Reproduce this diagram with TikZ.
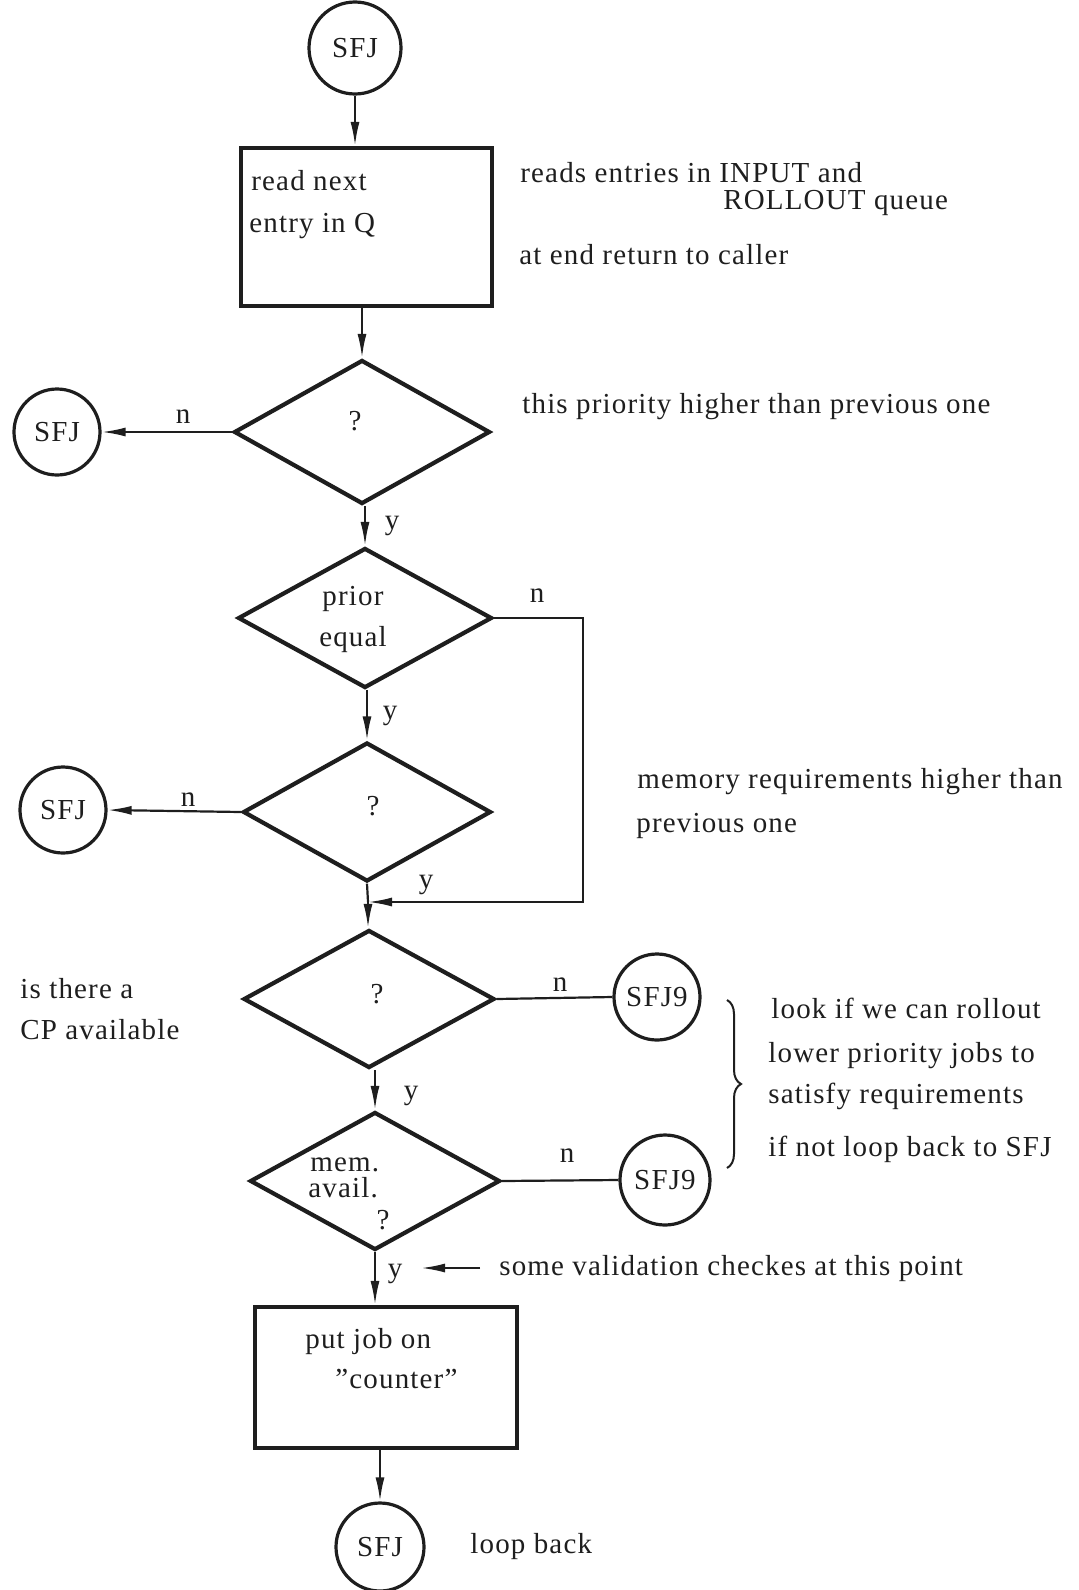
\documentclass[tikz,border=0pt]{standalone}
\usepackage{fontspec}
\setmainfont[LetterSpace=4]{Liberation Serif}
\usetikzlibrary{shapes.geometric,arrows.meta,decorations.pathreplacing}
\definecolor{ink}{RGB}{30,30,30}

\begin{document}
\begin{tikzpicture}[x=0.5pt,y=-0.5pt,
  every node/.style={text=ink},
  txt/.style={font=\fontsize{14.5}{17}\selectfont, inner sep=0pt, text height=12.5pt, text depth=3pt},
  lbl/.style={txt, anchor=west},
  ctr/.style={txt, anchor=center},
  term/.style={draw=ink, circle, line width=1.6pt, inner sep=0pt, font=\fontsize{14.5}{17}\selectfont},
  proc/.style={draw=ink, rectangle, line width=2.1pt, inner sep=0pt},
  test/.style={draw=ink, diamond, line width=2.1pt, inner sep=0pt},
  flow/.style={draw=ink, line width=1.1pt},
  tip/.style={-{Latex[length=12pt,width=4.5pt]}}
]
\useasboundingbox (0,0) rectangle (1079,1590);

% ---- main column ----
\node[term, minimum size=46pt] (top) at (355,48) {SFJ};
\node[proc, minimum width=125.5pt, minimum height=79pt] (read) at (366.5,227) {};
\node[test, minimum width=128pt, minimum height=72pt] (q1) at (362,432) {};
\node[term, minimum size=43pt] (s1) at (57,432) {SFJ};
\node[test, minimum width=127pt, minimum height=70pt] (q2) at (365,618) {};
\node[test, minimum width=124pt, minimum height=69.5pt] (q3) at (367,812) {};
\node[term, minimum size=43pt] (s2) at (63,810) {SFJ};
\coordinate (join) at (368,902);
\coordinate (bend) at (583,902);
\node[test, minimum width=125.5pt, minimum height=69pt] (q4) at (369,999) {};
\node[term, minimum size=43pt] (r1) at (657,997) {SFJ9};
\node[test, minimum width=125pt, minimum height=69pt] (q5) at (375,1181) {};
\node[term, minimum size=45pt] (r2) at (665,1180) {SFJ9};
\node[proc, minimum width=131pt, minimum height=70.5pt] (put) at (386,1377.5) {};
\node[term, minimum size=44pt] (end) at (380,1547) {SFJ};

% ---- texts inside the shapes ----
\node[lbl] at (251,181) {read next};
\node[lbl] at (249,223) {entry in Q};
\node[ctr] at (355,421) {?};
\node[ctr] at (353,596) {prior};
\node[ctr] at (353,637) {equal};
\node[ctr] at (373,806) {?};
\node[ctr] at (377,994) {?};
\node[lbl] at (310,1162) {mem.};
\node[lbl] at (308,1188) {avail.};
\node[ctr] at (383,1220) {?};
\node[lbl] at (305,1339) {put job on};
\node[lbl] at (335,1379) {”counter”};

% ---- connectors ----
\draw[flow,tip] (top) -- (top |- read.north);
\draw[flow,tip] (q1.north |- read.south) -- (q1.north);
\draw[flow,tip] (q1.west) -- (s1.east);
\draw[flow,tip] (q2.north |- q1.south) -- (q2.north);
\draw[flow,tip] (q2.east) -| (bend) -- (join);
\draw[flow,tip] (q3.north |- q2.south) -- (q3.north);
\draw[flow,tip] (q3.west) -- (s2.east);
\draw[flow] (q3.south) -- (join);
\draw[flow,tip] (join) -- (join |- q4.north);
\draw[flow] (q4.east) -- (r1.west);
\draw[flow,tip] (q5.north |- q4.south) -- (q5.north);
\draw[flow] (q5.east) -- (r2.west);
\draw[flow,tip] (q5.south) -- (q5.south |- put.north);
\draw[flow,tip] (end.north |- put.south) -- (end.north);

% ---- branch labels ----
\node[ctr] at (183,414) {n};
\node[ctr] at (392,520) {y};
\node[ctr] at (537,593) {n};
\node[ctr] at (390,710) {y};
\node[ctr] at (188,797) {n};
\node[ctr] at (426,879) {y};
\node[ctr] at (560,982) {n};
\node[ctr] at (411,1090) {y};
\node[ctr] at (567,1153) {n};
\node[ctr] at (395,1268) {y};

% ---- comments beside the chart ----
\node[lbl] at (520,173) {reads entries in INPUT and};
\node[lbl] at (723,200) {ROLLOUT queue};
\node[lbl] at (519,255) {at end return to caller};
\node[lbl] at (522,404) {this priority higher than previous one};
\node[lbl] at (637,779) {memory requirements higher than};
\node[lbl] at (636,823) {previous one};
\node[lbl] at (20,989) {is there a};
\node[lbl] at (20,1030) {CP available};
\node[lbl] at (771,1009) {look if we can rollout};
\node[lbl] at (768,1053) {lower priority jobs to};
\node[lbl] at (768,1094) {satisfy requirements};
\node[lbl] at (768,1147) {if not loop back to SFJ};
\node[lbl] (check) at (499,1266) {some validation checkes at this point};
\node[lbl] at (470,1544) {loop back};

\coordinate (vnote) at (480,1268);
\coordinate (vtip) at (421,1268);
\draw[flow,tip] (vnote) -- (vtip);

\draw[ink, line width=1pt, decorate, decoration={brace, amplitude=7pt}] (727,1000) -- (727,1168);
\end{tikzpicture}
\end{document}
